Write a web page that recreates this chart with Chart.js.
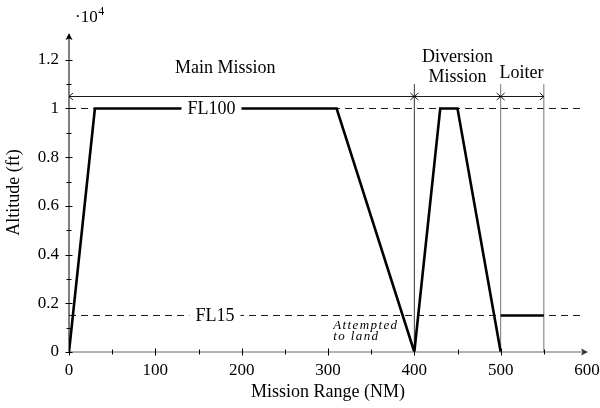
<!DOCTYPE html>
<html>
<head>
<meta charset="utf-8">
<script src="https://cdn.jsdelivr.net/npm/chart.js@4.4.1/dist/chart.umd.min.js"></script>
<style>
  html, body { margin: 0; padding: 0; background: #fff; }
  #wrap { width: 600px; height: 408px; }
</style>
</head>
<body>
<div id="wrap"><canvas id="profil" width="600" height="408"></canvas></div>
<script>
// flight profile (range in NM, altitude in ft)
const rangeNM = [0, 30, 310, 400, 430, 450, 500];
const altitudeFt = [0, 10000, 10000, 0, 10000, 10000, 0];
const loiterNM = [500, 550];
const loiterFt = [1500, 1500];

// reference flight levels
const levelFt = [10000, 1500];
const levelNames = ['FL100', 'FL15'];
const levelLabelNM = [165, 169];
const levelEndNM = 595;

// mission phases
const phaseEdges = [0, 400, 500, 550];
const phaseNames = [['Main Mission'], ['Diversion', 'Mission'], ['Loiter']];
const phaseLabelNM = [181, 450, 524];
const phaseArrowFt = 10500;
const phaseLineTopFt = 11000;

// axis ticks
const yTickValues = [0, 2000, 4000, 6000, 8000, 10000, 12000];
const yTickLabels = ['0', '0.2', '0.4', '0.6', '0.8', '1', '1.2'];
const yMinorStep = 1000;
const xTickLabels = ['0', '100', '200', '300', '400', '500', '600'];

const FONT = "'Liberation Serif', 'Times New Roman', serif";

function seg(xs, ys) {
  return xs.map((v, i) => ({ x: v, y: ys[i] }));
}

function chevron(ctx, x, y, dir) {
  ctx.beginPath();
  ctx.moveTo(x - dir * 4, y - 3.5);
  ctx.lineTo(x, y);
  ctx.lineTo(x - dir * 4, y + 3.5);
  ctx.stroke();
}

const datasets = [
  { data: seg(rangeNM, altitudeFt), borderColor: '#000', borderWidth: 2.6 },
  { data: seg(loiterNM, loiterFt), borderColor: '#000', borderWidth: 2.6 },
  { data: seg([phaseEdges[1], phaseEdges[1]], [0, phaseLineTopFt]), borderColor: '#000', borderWidth: 0.8 },
  { data: seg([phaseEdges[2], phaseEdges[2]], [0, phaseLineTopFt]), borderColor: '#777', borderWidth: 1 },
  { data: seg([phaseEdges[3], phaseEdges[3]], [0, phaseLineTopFt]), borderColor: '#777', borderWidth: 1 }
];
levelFt.forEach(v => {
  datasets.push({ data: seg([0, levelEndNM], [v, v]), borderColor: '#000', borderWidth: 0.9, borderDash: [7, 5] });
});

const decor = {
  id: 'decor',
  afterDatasetsDraw(chart) {
    const { ctx, scales: { x, y }, chartArea } = chart;
    ctx.save();

    // flight level tags
    ctx.font = '18px ' + FONT;
    ctx.textAlign = 'center';
    ctx.textBaseline = 'middle';
    levelNames.forEach((name, i) => {
      const px = x.getPixelForValue(levelLabelNM[i]);
      const py = y.getPixelForValue(levelFt[i]);
      const w = ctx.measureText(name).width + 12;
      ctx.fillStyle = '#fff';
      ctx.fillRect(px - w / 2, py - 8, w, 16);
      ctx.fillStyle = '#000';
      ctx.fillText(name, px, py + 1);
    });

    // phase arrows
    const ay = Math.round(y.getPixelForValue(phaseArrowFt)) + 0.5;
    ctx.strokeStyle = '#000';
    ctx.lineWidth = 0.9;
    for (let i = 0; i < phaseEdges.length - 1; i++) {
      const a = x.getPixelForValue(phaseEdges[i]);
      const b = x.getPixelForValue(phaseEdges[i + 1]);
      ctx.beginPath();
      ctx.moveTo(a, ay);
      ctx.lineTo(b, ay);
      ctx.stroke();
      chevron(ctx, a, ay, -1);
      chevron(ctx, b, ay, 1);
    }

    // phase names
    ctx.font = '18px ' + FONT;
    ctx.textBaseline = 'alphabetic';
    phaseNames.forEach((lines, i) => {
      const px = x.getPixelForValue(phaseLabelNM[i]);
      const n = lines.length;
      lines.forEach((t, k) => {
        const base = n === 1 ? (i === 0 ? ay - 24 : ay - 19) : ay - 15 - (n - 1 - k) * 20;
        ctx.fillText(t, px, base);
      });
    });

    // note at the first landing attempt
    ctx.font = 'italic 13px ' + FONT;
    ctx.textAlign = 'left';
    ctx.letterSpacing = '1.4px';
    const y0 = y.getPixelForValue(0);
    const nx = x.getPixelForValue(306);
    ctx.fillText('Attempted', nx, y0 - 23);
    ctx.fillText('to land', nx, y0 - 12);
    ctx.letterSpacing = '0px';

    // axes
    const x0 = x.getPixelForValue(0);
    const xEnd = x.getPixelForValue(600) + 1;
    ctx.lineWidth = 1;
    ctx.strokeStyle = '#666';
    ctx.beginPath();
    ctx.moveTo(x0, y0);
    ctx.lineTo(xEnd - 3, y0);
    ctx.stroke();
    ctx.fillStyle = '#333';
    ctx.beginPath();
    ctx.moveTo(xEnd, y0);
    ctx.lineTo(xEnd - 7, y0 - 3.5);
    ctx.lineTo(xEnd - 5.5, y0);
    ctx.lineTo(xEnd - 7, y0 + 3.5);
    ctx.closePath();
    ctx.fill();

    const yTop = chartArea.top;
    ctx.strokeStyle = '#000';
    ctx.beginPath();
    ctx.moveTo(x0, y0);
    ctx.lineTo(x0, yTop + 3);
    ctx.stroke();
    ctx.fillStyle = '#000';
    ctx.beginPath();
    ctx.moveTo(x0, yTop);
    ctx.lineTo(x0 - 3.5, yTop + 7);
    ctx.lineTo(x0, yTop + 5.5);
    ctx.lineTo(x0 + 3.5, yTop + 7);
    ctx.closePath();
    ctx.fill();

    // crossing tick marks
    ctx.strokeStyle = '#000';
    x.ticks.forEach(t => {
      if (t.value >= 600) return;
      const px = Math.round(x.getPixelForValue(t.value)) + 0.5;
      const h = t.value % 100 === 0 ? 3.5 : 2.5;
      ctx.beginPath();
      ctx.moveTo(px, y0 - h);
      ctx.lineTo(px, y0 + h);
      ctx.stroke();
    });
    y.ticks.forEach(t => {
      const py = Math.round(y.getPixelForValue(t.value)) + 0.5;
      const h = yTickValues.includes(t.value) ? 3.5 : 2.5;
      ctx.beginPath();
      ctx.moveTo(x0 - h, py);
      ctx.lineTo(x0 + h, py);
      ctx.stroke();
    });

    // axis titles and exponent
    ctx.fillStyle = '#000';
    ctx.font = '18px ' + FONT;
    ctx.textAlign = 'center';
    ctx.textBaseline = 'middle';
    ctx.fillText('Mission Range (NM)', (chartArea.left + chartArea.right) / 2, 392);
    ctx.save();
    ctx.translate(14, (chartArea.top + chartArea.bottom) / 2);
    ctx.rotate(-Math.PI / 2);
    ctx.fillText('Altitude (ft)', 0, 0);
    ctx.restore();

    ctx.textAlign = 'left';
    ctx.textBaseline = 'alphabetic';
    ctx.font = '17px ' + FONT;
    const base = '\u00b710';
    ctx.fillText(base, 75, 22);
    const bw = ctx.measureText(base).width;
    ctx.font = '12px ' + FONT;
    ctx.fillText('4', 75 + bw + 0.5, 15);

    ctx.restore();
  }
};

new Chart(document.getElementById('profil').getContext('2d'), {
  type: 'line',
  data: { datasets: datasets },
  plugins: [decor],
  options: {
    responsive: false,
    animation: false,
    parsing: false,
    layout: { padding: { top: 33, right: 13, left: 0, bottom: 0 } },
    elements: { point: { radius: 0 }, line: { tension: 0, fill: false } },
    plugins: { legend: { display: false }, tooltip: { enabled: false } },
    scales: {
      x: {
        type: 'linear',
        min: 0,
        max: 600,
        grid: { display: false, drawTicks: false },
        border: { display: false },
        ticks: {
          stepSize: 50,
          autoSkip: false,
          maxRotation: 0,
          padding: 8,
          color: '#000',
          font: { family: FONT, size: 17 },
          callback: function (value) {
            return value % 100 === 0 ? xTickLabels[value / 100] : '';
          }
        },
        afterFit: function (s) {
          s.height = 56;
          s.paddingLeft = 0;
          s.paddingRight = 0;
        }
      },
      y: {
        type: 'linear',
        min: 0,
        max: 13100,
        grid: { display: false, drawTicks: false },
        border: { display: false },
        ticks: {
          autoSkip: false,
          padding: 10,
          color: '#000',
          font: { family: FONT, size: 17 },
          callback: function (value) {
            const i = yTickValues.indexOf(value);
            return i >= 0 ? yTickLabels[i] : '';
          }
        },
        afterBuildTicks: function (s) {
          const top = yTickValues[yTickValues.length - 1];
          const ticks = [];
          for (let v = 0; v <= top; v += yMinorStep) ticks.push({ value: v });
          s.ticks = ticks;
        },
        afterFit: function (s) {
          s.width = 69;
          s.paddingTop = 0;
          s.paddingBottom = 0;
        }
      }
    }
  }
});
</script>
</body>
</html>
